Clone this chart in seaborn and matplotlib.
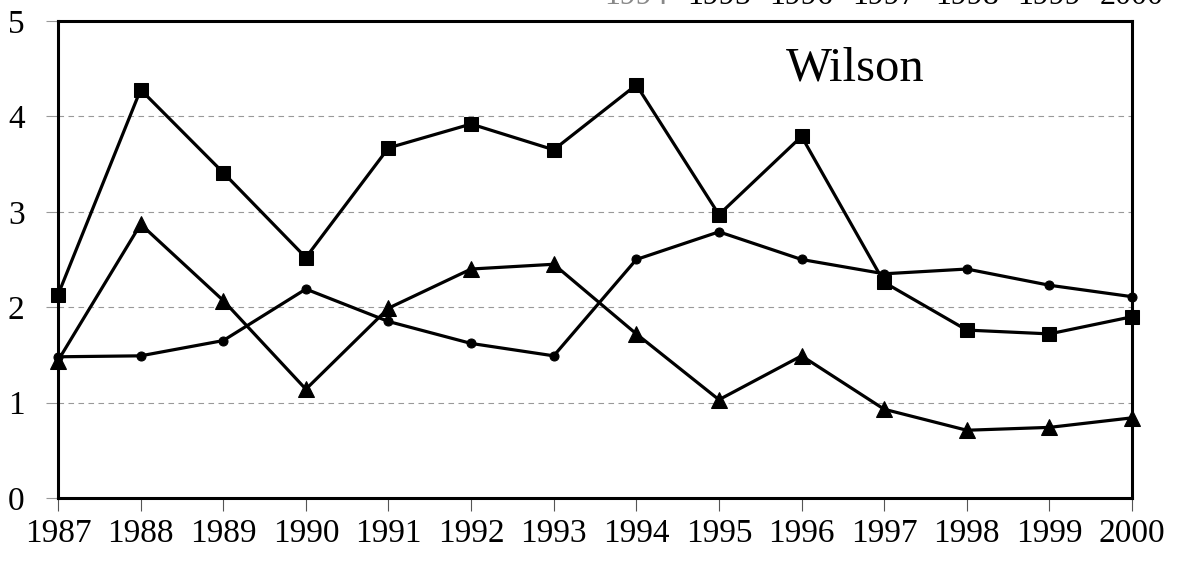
import numpy as np
import pandas as pd
import seaborn as sns
import matplotlib.pyplot as plt

# values
years = list(range(1987, 2001))
squares = [2.13, 4.28, 3.41, 2.52, 3.67, 3.92, 3.65, 4.33, 2.97, 3.79, 2.26, 1.76, 1.72, 1.90]
circles = [1.48, 1.49, 1.65, 2.19, 1.85, 1.62, 1.49, 2.50, 2.79, 2.50, 2.35, 2.40, 2.23, 2.11]
triangles = [1.44, 2.87, 2.07, 1.14, 1.99, 2.40, 2.45, 1.72, 1.03, 1.49, 0.93, 0.71, 0.74, 0.84]
yticks = [0, 1, 2, 3, 4, 5]
# tick labels of the chart above, cut off at the top of the scan
top_years = [1994, 1995, 1996, 1997, 1998, 1999, 2000]

sns.set_style("white", {"text.color": "black", "xtick.color": "black",
                        "ytick.color": "black", "axes.labelcolor": "black"})
plt.rcParams['font.family'] = ['Liberation Serif', 'DejaVu Serif']

fig = plt.figure(figsize=(11.77, 5.63), dpi=100)
ax = fig.add_axes([0.0493, 0.1155, 0.9125, 0.8472])

series = [
    (squares, 's', 10),
    (circles, 'o', 6.5),
    (triangles, '^', 12),
]
for vals, mk, ms in series:
    sns.lineplot(x=years, y=vals, ax=ax, color='black', marker=mk,
                 markersize=ms, markeredgecolor='black', linewidth=2.3,
                 clip_on=False, zorder=3)

ax.set_xlim(1987, 2000)
ax.set_ylim(0, 5)
ax.set_xticks(years)
ax.set_yticks(yticks)
ax.set_xticklabels([str(y) for y in years], fontsize=24, color='black')
ax.set_yticklabels([str(y) for y in yticks], fontsize=24, color='black')

for y in yticks[1:-1]:
    ax.axhline(y, color='#999999', lw=0.8, ls=(0, (5, 4)), zorder=1)

for s in ax.spines.values():
    s.set_color('black')
    s.set_linewidth(2.2)

ax.tick_params(axis='x', length=9.5, width=0.8, color='#555555', pad=5,
               direction='out', bottom=True, labelcolor='black')
ax.tick_params(axis='y', length=9, width=0.8, color='#999999', pad=15,
               direction='out', left=True, labelcolor='black')

ax.text(0.742, 0.876, "Wilson", transform=ax.transAxes, ha='center',
        va='baseline', fontsize=35, color='black')

# partial labels peeking in at the top edge of the scan (same x layout)
for yr in top_years:
    xf = 0.0493 + 0.9125 * (yr - 1987) / 13
    col = '#888888' if yr == top_years[0] else 'black'
    fig.text(xf, 1 - 4.5 / 563, str(yr), ha='center', va='baseline',
             fontsize=23, color=col)

fig.savefig("out.png", dpi=100)
